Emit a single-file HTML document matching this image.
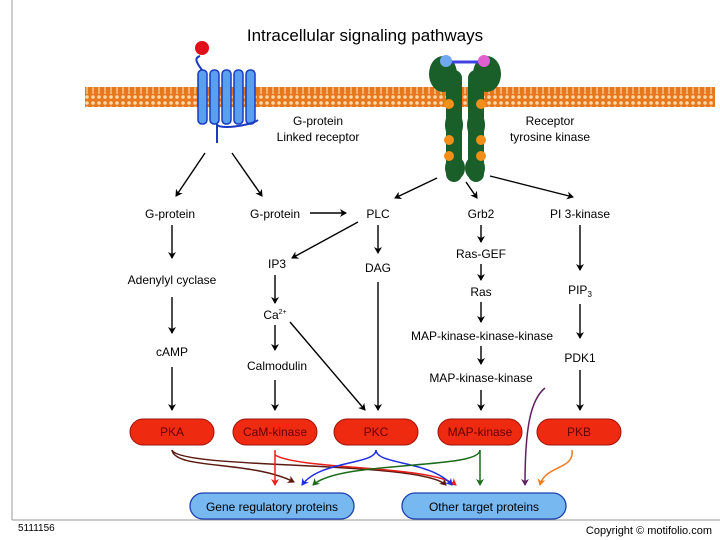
<!DOCTYPE html>
<html><head><style>
body{margin:0;background:#fff}
svg{display:block;font-family:"Liberation Sans",sans-serif}
</style></head><body>
<svg width="720" height="540" viewBox="0 0 720 540">
<defs>
<pattern id="mem" width="6" height="20" patternUnits="userSpaceOnUse">
<rect width="6" height="20" fill="#e8781e"/>
<circle cx="3" cy="3" r="1.8" fill="#fcd9a8"/><circle cx="3" cy="17" r="1.8" fill="#fcd9a8"/>
<rect x="2.3" y="6" width="1.4" height="8" fill="#f6c890"/>
</pattern>
<marker id="a" markerWidth="8" markerHeight="8" refX="6" refY="4" orient="auto" markerUnits="userSpaceOnUse"><path d="M0,0 L7,4 L0,8 L2,4z" fill="#000"/></marker>
<marker id="ar" markerWidth="8" markerHeight="8" refX="6" refY="4" orient="auto" markerUnits="userSpaceOnUse"><path d="M0,0 L7,4 L0,8 L2,4z" fill="#e8201a"/></marker>
<marker id="ab" markerWidth="8" markerHeight="8" refX="6" refY="4" orient="auto" markerUnits="userSpaceOnUse"><path d="M0,0 L7,4 L0,8 L2,4z" fill="#2030e0"/></marker>
<marker id="ag" markerWidth="8" markerHeight="8" refX="6" refY="4" orient="auto" markerUnits="userSpaceOnUse"><path d="M0,0 L7,4 L0,8 L2,4z" fill="#1a6a1a"/></marker>
<marker id="abr" markerWidth="8" markerHeight="8" refX="6" refY="4" orient="auto" markerUnits="userSpaceOnUse"><path d="M0,0 L7,4 L0,8 L2,4z" fill="#5a1a10"/></marker>
<marker id="ap" markerWidth="8" markerHeight="8" refX="6" refY="4" orient="auto" markerUnits="userSpaceOnUse"><path d="M0,0 L7,4 L0,8 L2,4z" fill="#602060"/></marker>
<marker id="ao" markerWidth="8" markerHeight="8" refX="6" refY="4" orient="auto" markerUnits="userSpaceOnUse"><path d="M0,0 L7,4 L0,8 L2,4z" fill="#f07a20"/></marker>
</defs>
<line x1="12" y1="0" x2="12" y2="520" stroke="#999"/>
<line x1="12" y1="520" x2="720" y2="520" stroke="#999"/>
<text x="365" y="41" font-size="17" text-anchor="middle">Intracellular signaling pathways</text>
<rect x="85" y="87" width="630" height="20" fill="url(#mem)"/>
<g fill="#5aa0f0" stroke="#1a3ac0" stroke-width="1.5">
<rect x="198" y="70" width="9" height="54" rx="4"/><rect x="210" y="70" width="9" height="54" rx="4"/>
<rect x="222" y="70" width="9" height="54" rx="4"/><rect x="234" y="70" width="9" height="54" rx="4"/><rect x="246" y="70" width="9" height="54" rx="4"/>
</g>
<path d="M202,70 C196,62 194,58 200,56 M217,124 C217,130 250,126 258,120 M217,124 L217,143" stroke="#1a3ac0" stroke-width="2" fill="none"/>
<circle cx="202" cy="48" r="7" fill="#e0101a"/>
<g fill="#1a5e2a">
<ellipse cx="443" cy="74" rx="14" ry="18"/><ellipse cx="487" cy="74" rx="14" ry="18"/>
<rect x="446" y="70" width="16" height="112" rx="8"/><rect x="468" y="70" width="16" height="112" rx="8"/>
<ellipse cx="454" cy="125" rx="9" ry="14"/><ellipse cx="476" cy="125" rx="9" ry="14"/>
<ellipse cx="455" cy="168" rx="10" ry="12"/><ellipse cx="475" cy="168" rx="10" ry="12"/>
</g>
<line x1="448" y1="62" x2="482" y2="62" stroke="#4040e0" stroke-width="3"/>
<circle cx="446" cy="61" r="6" fill="#70a8f0"/><circle cx="484" cy="61" r="6" fill="#e060d0"/>
<g fill="#f0901a">
<circle cx="449" cy="104" r="5"/><circle cx="481" cy="104" r="5"/><circle cx="449" cy="140" r="5"/><circle cx="481" cy="140" r="5"/><circle cx="449" cy="156" r="5"/><circle cx="481" cy="156" r="5"/>
</g>
<g font-size="12" text-anchor="middle">
<text x="318" y="125">G-protein</text><text x="318" y="141">Linked receptor</text>
<text x="550" y="125">Receptor</text><text x="550" y="141">tyrosine kinase</text>
<text x="170" y="218">G-protein</text><text x="275" y="218">G-protein</text>
<text x="378" y="218">PLC</text><text x="481" y="218">Grb2</text><text x="580" y="218">PI 3-kinase</text>
<text x="172" y="284">Adenylyl cyclase</text><text x="277" y="268">IP3</text><text x="378" y="272">DAG</text>
<text x="481" y="258">Ras-GEF</text><text x="481" y="296">Ras</text><text x="580" y="294">PIP<tspan font-size="8" dy="3">3</tspan></text>
<text x="275" y="319">Ca<tspan font-size="7" dy="-5">2+</tspan></text>
<text x="482" y="340">MAP-kinase-kinase-kinase</text><text x="580" y="362">PDK1</text>
<text x="172" y="356">cAMP</text><text x="277" y="370">Calmodulin</text><text x="481" y="382">MAP-kinase-kinase</text>
</g>
<g stroke="#000" stroke-width="1.4" marker-end="url(#a)" fill="none">
<line x1="205" y1="153" x2="176" y2="196"/><line x1="232" y1="153" x2="262" y2="196"/>
<line x1="437" y1="178" x2="395" y2="198"/><line x1="466" y1="182" x2="477" y2="198"/><line x1="490" y1="176" x2="573" y2="197"/>
<line x1="310" y1="213" x2="346" y2="213"/>
<line x1="172" y1="225" x2="172" y2="258"/><line x1="172" y1="297" x2="172" y2="333"/><line x1="172" y1="367" x2="172" y2="410"/>
<line x1="358" y1="222" x2="292" y2="258"/><line x1="378" y1="225" x2="378" y2="253"/><line x1="378" y1="282" x2="378" y2="410"/>
<line x1="275" y1="275" x2="275" y2="303"/><line x1="275" y1="325" x2="275" y2="350"/><line x1="275" y1="380" x2="275" y2="410"/>
<line x1="290" y1="322" x2="365" y2="410"/>
<line x1="481" y1="225" x2="481" y2="242"/><line x1="481" y1="264" x2="481" y2="280"/><line x1="481" y1="302" x2="481" y2="322"/>
<line x1="481" y1="346" x2="481" y2="364"/><line x1="481" y1="390" x2="481" y2="410"/>
<line x1="580" y1="225" x2="580" y2="270"/><line x1="580" y1="304" x2="580" y2="338"/><line x1="580" y1="370" x2="580" y2="410"/>
</g>
<g fill="#ee2a10" stroke="#a01008">
<rect x="130" y="419" width="84" height="26" rx="13"/><rect x="233" y="419" width="84" height="26" rx="13"/>
<rect x="334" y="419" width="84" height="26" rx="13"/><rect x="438" y="419" width="84" height="26" rx="13"/><rect x="537" y="419" width="84" height="26" rx="13"/>
</g>
<g font-size="12" text-anchor="middle" fill="#600">
<text x="172" y="436">PKA</text><text x="275" y="436">CaM-kinase</text><text x="376" y="436">PKC</text><text x="480" y="436">MAP-kinase</text><text x="579" y="436">PKB</text>
</g>
<g fill="none" stroke-width="1.5">
<path d="M172,450 C175,470 250,460 294,482" stroke="#5a1a10" marker-end="url(#abr)"/>
<path d="M172,450 C180,470 420,460 446,485" stroke="#5a1a10" marker-end="url(#abr)"/>
<line x1="275" y1="450" x2="275" y2="485" stroke="#e8201a" marker-end="url(#ar)"/>
<path d="M275,455 C300,470 430,465 456,485" stroke="#e8201a" marker-end="url(#ar)"/>
<path d="M376,450 C376,465 320,460 302,485" stroke="#2030e0" marker-end="url(#ab)"/>
<path d="M376,450 C376,465 430,460 452,485" stroke="#2030e0" marker-end="url(#ab)"/>
<path d="M480,450 C480,470 340,460 313,485" stroke="#1a6a1a" marker-end="url(#ag)"/>
<line x1="480" y1="450" x2="480" y2="485" stroke="#1a6a1a" marker-end="url(#ag)"/>
<path d="M545,388 C530,400 525,430 525,485" stroke="#602060" marker-end="url(#ap)"/>
<path d="M572,450 C575,470 545,465 540,485" stroke="#f07a20" marker-end="url(#ao)"/>
</g>
<g fill="#78b8f0" stroke="#1a40b0" stroke-width="1.3">
<rect x="190" y="493" width="164" height="26" rx="13"/><rect x="402" y="493" width="164" height="26" rx="13"/>
</g>
<g font-size="12" text-anchor="middle">
<text x="272" y="511">Gene regulatory proteins</text><text x="484" y="511">Other target proteins</text>
</g>
<text x="18" y="531" font-size="10">5111156</text>
<text x="712" y="534" font-size="11" text-anchor="end">Copyright © motifolio.com</text>
</svg>
</body></html>
